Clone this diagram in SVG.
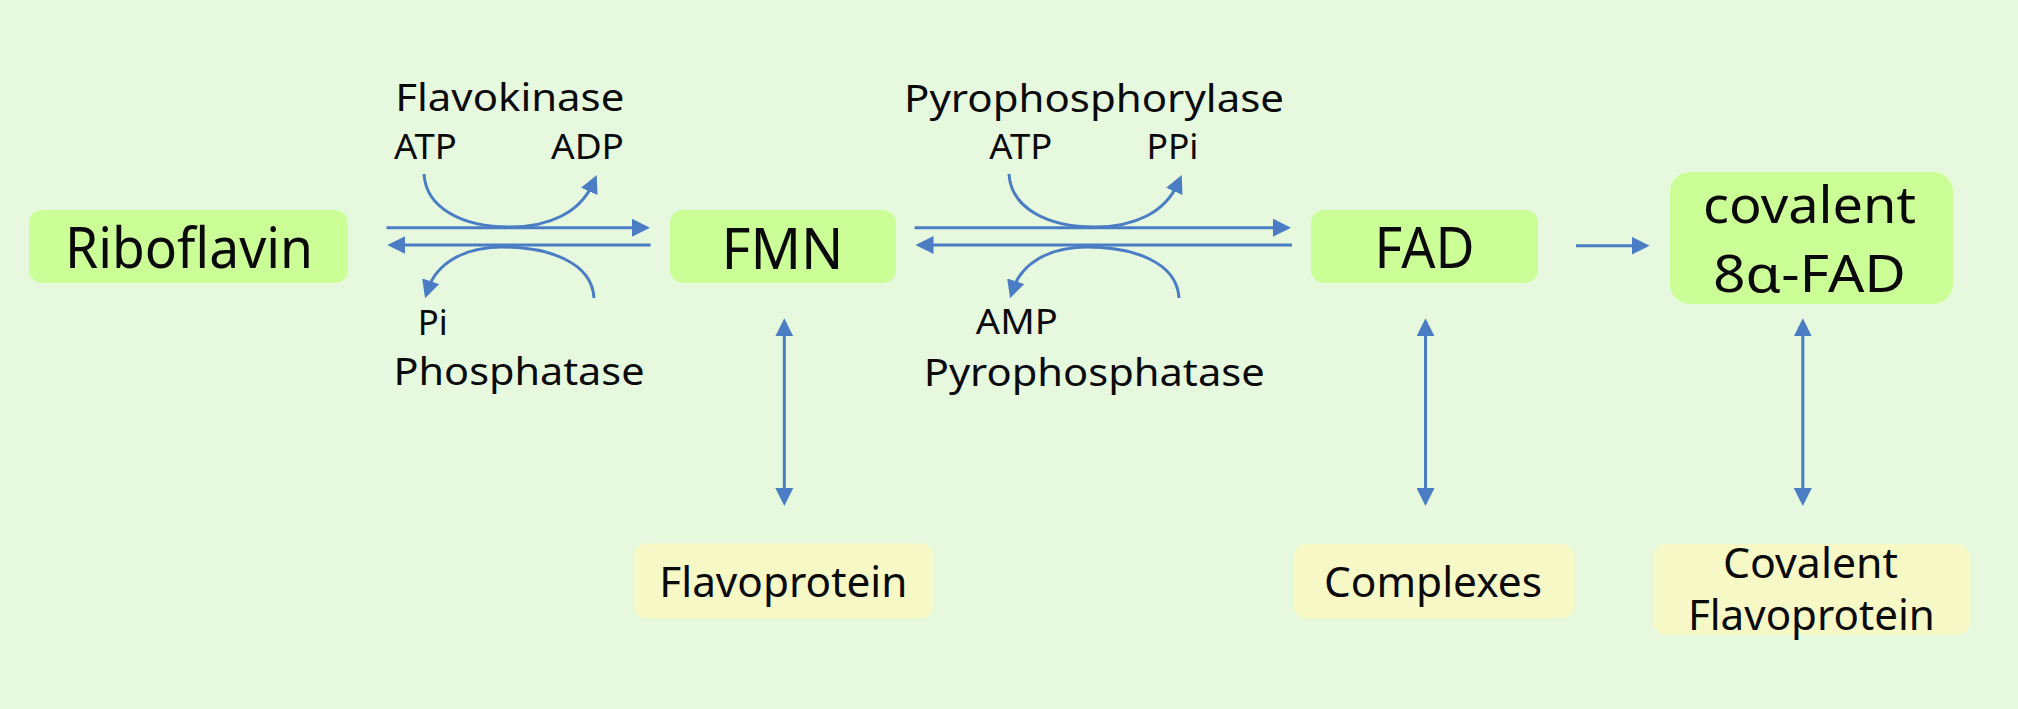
<svg xmlns="http://www.w3.org/2000/svg" width="2018" height="709" viewBox="0 0 2018 709">
<defs>
<marker id="ah" markerUnits="userSpaceOnUse" viewBox="0 0 18 18" markerWidth="18" markerHeight="18" refX="8" refY="9" orient="auto-start-reverse">
<path d="M0,0 L18,9 L0,18 Z" fill="#4A7DC4"/>
</marker>
<style>
.bg{fill:#E6F9DF}
.main{fill:#CCFE98}
.sub{fill:#F6F9C6}
.t{font-family:"Noto Sans","Open Sans","Liberation Sans",sans-serif;fill:#0a0a0a;text-anchor:middle}
.big{font-size:57px}
.cov{font-size:51px}
.enz{font-size:38px}
.co{font-size:34px}
.box{font-size:41px}
.c{fill:none;stroke:#4A7DC4;stroke-width:3}
</style>
</defs>
<rect class="bg" x="0" y="0" width="2018" height="709"/>

<g id="riboflavin">
<rect class="main" x="29" y="210" width="319" height="73" rx="13"/>
<text class="t big" x="189" y="268" textLength="248" lengthAdjust="spacingAndGlyphs">Riboflavin</text>
</g>
<g id="fmn">
<rect class="main" x="670" y="210" width="226" height="73" rx="13"/>
<text class="t big" x="782.5" y="269" textLength="122" lengthAdjust="spacingAndGlyphs">FMN</text>
</g>
<g id="fad">
<rect class="main" x="1311" y="210" width="227" height="73" rx="13"/>
<text class="t big" x="1424.5" y="268" textLength="100" lengthAdjust="spacingAndGlyphs">FAD</text>
</g>
<g id="covalent-fad">
<rect class="main" x="1670" y="172" width="283" height="132" rx="20"/>
<text class="t cov" x="1809.5" y="223" textLength="213" lengthAdjust="spacingAndGlyphs">covalent</text>
<text class="t cov" x="1809.5" y="292" textLength="193" lengthAdjust="spacingAndGlyphs">8α-FAD</text>
</g>
<g id="flavoprotein">
<rect class="sub" x="633.5" y="543.5" width="300.5" height="75" rx="13"/>
<text class="t box" x="783.3" y="597" textLength="248" lengthAdjust="spacingAndGlyphs">Flavoprotein</text>
</g>
<g id="complexes">
<rect class="sub" x="1293.5" y="544" width="281" height="74.5" rx="13"/>
<text class="t box" x="1433" y="597" textLength="218" lengthAdjust="spacingAndGlyphs">Complexes</text>
</g>
<g id="covalent-flavoprotein">
<rect class="sub" x="1653" y="544" width="317.5" height="91" rx="14"/>
<text class="t box" x="1810.5" y="578" textLength="175" lengthAdjust="spacingAndGlyphs">Covalent</text>
<text class="t box" x="1811.4" y="630" textLength="247" lengthAdjust="spacingAndGlyphs">Flavoprotein</text>
</g>

<g id="labels">
<text class="t enz" x="509.8" y="111" textLength="229" lengthAdjust="spacingAndGlyphs">Flavokinase</text>
<text class="t co" x="425.4" y="159" textLength="63" lengthAdjust="spacingAndGlyphs">ATP</text>
<text class="t co" x="587.5" y="159" textLength="73" lengthAdjust="spacingAndGlyphs">ADP</text>
<text class="t co" x="432.8" y="335" textLength="30" lengthAdjust="spacingAndGlyphs">Pi</text>
<text class="t enz" x="519" y="385" textLength="251" lengthAdjust="spacingAndGlyphs">Phosphatase</text>
<text class="t enz" x="1094" y="112" textLength="380" lengthAdjust="spacingAndGlyphs">Pyrophosphorylase</text>
<text class="t co" x="1020.8" y="159" textLength="63" lengthAdjust="spacingAndGlyphs">ATP</text>
<text class="t co" x="1172.5" y="159" textLength="52" lengthAdjust="spacingAndGlyphs">PPi</text>
<text class="t co" x="1016.8" y="334" textLength="82" lengthAdjust="spacingAndGlyphs">AMP</text>
<text class="t enz" x="1094.2" y="386" textLength="341" lengthAdjust="spacingAndGlyphs">Pyrophosphatase</text>
</g>

<g id="connectors">
<path class="c" d="M386.5,227.7 H640" marker-end="url(#ah)"/>
<path class="c" d="M650.6,245 H397.3" marker-end="url(#ah)"/>
<path class="c" d="M914.6,227.7 H1281" marker-end="url(#ah)"/>
<path class="c" d="M1292,245 H925.5" marker-end="url(#ah)"/>
<path class="c" d="M1576,245.7 H1639.6" marker-end="url(#ah)"/>
<path class="c" d="M424,174 C426,208 462,227 510,227 C550,227 580,212 592.6,184.1" marker-end="url(#ah)"/>
<path class="c" d="M594,298 C592,262 548,247 502,247 C462,247 436,265 428.2,288.8" marker-end="url(#ah)"/>
<path class="c" d="M1009,174 C1011,208 1047,227 1095,227 C1135,227 1165,212 1177.6,184.1" marker-end="url(#ah)"/>
<path class="c" d="M1179,298 C1177,262 1133,247 1087,247 C1047,247 1021,265 1013.2,288.8" marker-end="url(#ah)"/>
<path class="c" d="M784.3,328.3 V496" marker-start="url(#ah)" marker-end="url(#ah)"/>
<path class="c" d="M1425.5,328.3 V496" marker-start="url(#ah)" marker-end="url(#ah)"/>
<path class="c" d="M1802.8,328.3 V496" marker-start="url(#ah)" marker-end="url(#ah)"/>
</g>
</svg>
